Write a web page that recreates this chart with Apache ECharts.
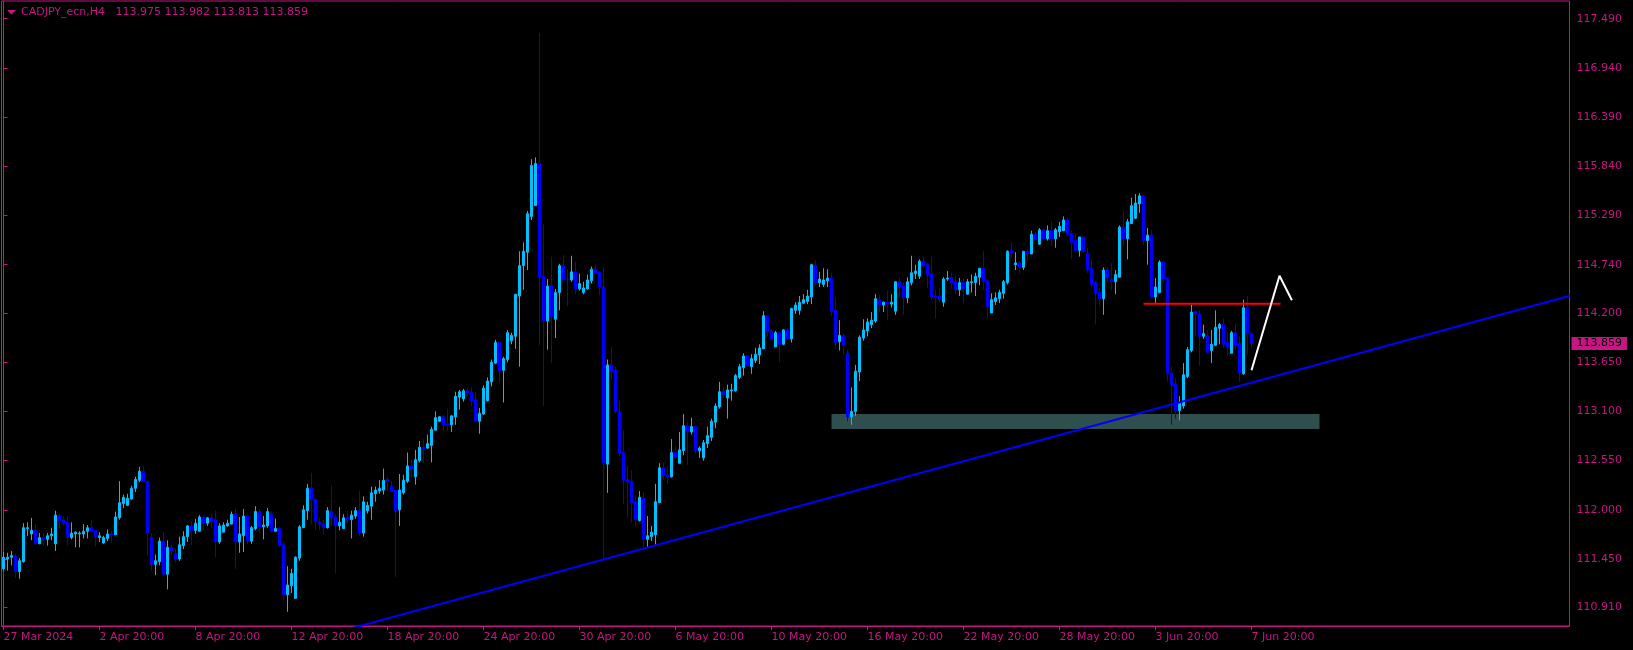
<!DOCTYPE html>
<html>
<head>
<meta charset="utf-8">
<title>CADJPY_ecn,H4</title>
<script src="https://cdn.jsdelivr.net/npm/echarts@6/dist/echarts.min.js"></script>
<style>
  html, body { margin: 0; padding: 0; background: #000; }
  #chart { width: 1633px; height: 650px; }
</style>
</head>
<body>
<div id="chart"></div>
<script>
// ---------------- DATA ----------------
const symbolTitle = 'CADJPY_ecn,H4';
const firstBarUTC = Date.UTC(2024, 2, 27, 20, 0); // first visible H4 bar
const firstLabel = '27 Mar 2024';
const labelEvery = 24;          // bars between time labels
const slotCount = 392;          // bar slots across the plot (incl. empty right margin)

const open = [
111.34,111.45,111.47,111.48,111.31,111.42,111.79,111.73,111.77,111.62,
111.69,111.67,111.71,111.62,111.94,111.89,111.86,111.69,111.73,111.73,
111.73,111.76,111.80,111.77,111.69,111.63,111.68,111.73,111.72,111.91,
112.07,112.05,112.12,112.24,112.33,112.43,112.32,111.69,111.39,111.42,
111.65,111.28,111.58,111.51,111.45,111.60,111.70,111.82,111.77,111.76,
111.92,111.85,111.91,111.89,111.64,111.75,111.82,111.84,111.95,111.64,
111.71,111.93,111.65,111.79,111.98,111.81,111.82,111.95,111.76,111.79,
111.61,111.05,111.15,111.01,111.46,111.80,111.99,112.24,112.12,111.86,
111.84,111.80,111.98,111.92,111.82,111.79,111.92,111.89,111.93,111.99,
111.74,111.99,112.04,112.18,112.21,112.22,112.34,112.26,112.22,112.00,
112.19,112.32,112.49,112.37,112.55,112.70,112.69,112.72,112.89,112.99,
113.04,112.96,112.95,113.04,113.26,113.24,113.33,113.31,113.23,112.99,
113.07,113.22,113.43,113.64,113.87,113.56,113.68,113.89,113.94,114.39,
114.73,114.88,115.28,115.40,115.87,114.61,114.11,114.51,114.13,114.43,
114.73,114.58,114.57,114.66,114.47,114.43,114.47,114.56,114.69,114.66,
114.49,112.51,113.62,113.56,113.10,112.64,112.34,112.32,112.09,111.88,
112.13,111.67,111.70,111.72,112.08,112.47,112.39,112.37,112.64,112.52,
112.66,112.94,112.87,112.93,112.66,112.58,112.74,112.81,112.98,113.15,
113.32,113.25,113.33,113.33,113.48,113.59,113.72,113.60,113.67,113.73,
113.80,114.17,114.00,113.82,113.98,113.85,114.01,113.91,114.23,114.23,
114.31,114.33,114.38,114.73,114.54,114.52,114.56,114.59,114.23,113.88,
113.95,113.75,113.04,113.10,113.54,113.92,114.00,114.07,114.11,114.35,
114.29,114.32,114.30,114.22,114.55,114.51,114.37,114.54,114.64,114.61,
114.78,114.74,114.64,114.39,114.39,114.32,114.58,114.60,114.55,114.46,
114.54,114.41,114.54,114.54,114.60,114.70,114.56,114.20,114.33,114.36,
114.42,114.54,114.90,114.74,114.76,114.71,114.89,114.86,115.08,114.97,
115.13,115.03,115.12,115.03,115.11,115.12,115.24,115.09,115.01,114.90,
115.05,114.87,114.70,114.54,114.43,114.36,114.68,114.58,114.55,114.60,
115.16,115.03,115.20,115.26,115.42,115.51,115.01,115.07,114.38,114.43,
114.77,114.59,113.53,113.41,113.11,113.16,113.49,113.78,114.22,114.19,
113.94,113.94,113.78,113.84,114.03,114.07,113.87,113.75,113.98,113.86,
113.52,114.26,113.975
];
const high = [
111.53,111.52,111.54,111.51,111.46,111.85,111.86,111.91,111.84,111.74,
111.74,111.74,111.80,111.99,111.96,111.93,111.92,111.86,111.76,111.76,
111.84,111.83,111.89,111.77,111.75,111.71,111.78,111.76,111.98,112.32,
112.17,112.18,112.27,112.37,112.48,112.49,112.32,111.74,111.50,111.69,
111.75,111.66,111.61,111.57,111.70,111.76,111.83,111.87,111.90,111.94,
111.94,111.92,111.96,111.99,111.85,111.86,111.89,111.98,112.01,111.92,
112.01,111.93,111.82,112.04,112.01,111.93,112.02,111.98,111.90,111.81,
111.64,111.37,111.34,111.48,111.83,112.05,112.29,112.41,112.12,111.91,
111.89,112.03,112.27,111.95,112.03,111.95,111.99,111.99,112.03,112.21,
112.15,112.09,112.26,112.26,112.33,112.46,112.37,112.32,112.22,112.40,
112.39,112.64,112.56,112.67,112.77,112.79,112.84,112.93,113.10,113.05,
113.06,113.13,113.06,113.32,113.34,113.35,113.37,113.37,113.32,113.14,
113.39,113.48,113.68,113.90,113.87,113.71,114.01,113.98,114.41,114.89,
114.99,115.34,115.92,115.94,117.33,115.19,114.58,114.83,114.47,114.75,
114.85,114.69,114.84,114.77,114.64,114.55,114.63,114.72,114.74,114.66,
114.71,113.68,113.82,113.60,113.22,112.89,112.49,112.44,112.16,112.21,
112.20,111.93,111.82,112.29,112.52,112.53,112.49,112.79,112.71,112.87,
113.07,112.98,113.03,112.94,112.71,112.78,112.93,113.02,113.19,113.43,
113.37,113.40,113.41,113.52,113.63,113.75,113.73,113.74,113.81,113.85,
114.22,114.17,114.02,114.00,113.98,114.02,114.03,114.26,114.32,114.39,
114.41,114.46,114.75,114.79,114.66,114.70,114.69,114.65,114.37,114.12,
113.97,113.79,113.37,113.62,113.95,114.13,114.14,114.21,114.41,114.40,
114.33,114.45,114.41,114.55,114.60,114.54,114.60,114.84,114.74,114.80,
114.83,114.76,114.83,114.46,114.48,114.60,114.67,114.65,114.61,114.59,
114.59,114.58,114.63,114.65,114.70,114.89,114.57,114.42,114.43,114.46,
114.57,114.90,114.99,114.88,114.78,114.89,114.92,115.12,115.11,115.15,
115.14,115.18,115.22,115.15,115.22,115.28,115.26,115.12,115.09,115.05,
115.05,114.93,114.80,114.56,114.48,114.71,114.71,114.76,114.68,115.18,
115.35,115.25,115.49,115.53,115.54,115.52,115.15,115.13,114.59,114.79,
114.78,114.60,113.60,113.47,113.27,113.64,113.82,114.29,114.22,114.23,
114.07,114.01,114.01,114.23,114.09,114.14,113.98,114.00,114.08,113.94,
114.35,114.39,113.982
];
const low = [
111.32,111.32,111.38,111.24,111.23,111.41,111.71,111.66,111.61,111.62,
111.60,111.60,111.66,111.54,111.78,111.82,111.60,111.67,111.58,111.58,
111.68,111.68,111.76,111.59,111.64,111.62,111.65,111.63,111.72,111.89,
112.02,112.04,112.12,112.20,112.31,112.31,111.48,111.32,111.27,111.38,
111.26,111.11,111.49,111.41,111.43,111.56,111.64,111.61,111.73,111.76,
111.77,111.82,111.80,111.47,111.62,111.75,111.81,111.84,111.34,111.52,
111.53,111.62,111.62,111.77,111.74,111.67,111.80,111.76,111.76,111.58,
110.98,110.86,111.07,111.01,111.43,111.80,111.89,111.84,111.77,111.77,
111.72,111.79,111.82,111.29,111.77,111.79,111.85,111.68,111.90,111.71,
111.70,111.96,111.89,112.09,112.18,112.17,112.21,112.19,111.25,111.82,
112.17,112.30,112.36,112.28,112.53,112.52,112.68,112.53,112.89,112.98,
112.88,112.88,112.87,112.95,113.12,113.21,113.27,113.16,112.98,112.85,
113.06,113.21,113.38,113.63,113.42,113.20,113.65,113.85,113.80,113.60,
114.46,114.68,115.24,115.40,113.84,113.16,113.79,113.64,113.92,114.23,
114.54,114.28,114.55,114.41,114.45,114.41,114.46,114.53,114.63,114.40,
111.43,112.19,113.46,113.08,112.60,112.06,111.91,111.86,111.82,111.87,
111.56,111.58,111.65,111.61,112.08,112.34,112.29,112.36,112.57,112.52,
112.61,112.50,112.84,112.62,112.58,112.55,112.69,112.77,112.91,113.13,
113.25,113.02,113.22,113.32,113.46,113.50,113.60,113.52,113.64,113.63,
113.80,113.94,113.89,113.82,113.65,113.84,113.90,113.87,114.19,114.18,
114.30,114.30,114.30,114.50,114.49,114.49,114.49,114.17,113.81,113.78,
113.74,112.99,112.95,113.05,113.44,113.89,113.94,114.03,114.09,114.21,
114.21,114.12,114.26,114.18,114.38,114.18,114.31,114.51,114.58,114.58,
114.70,114.48,114.35,114.14,114.32,114.27,114.56,114.47,114.41,114.39,
114.31,114.41,114.43,114.39,114.51,114.46,114.14,114.20,114.29,114.31,
114.36,114.52,114.82,114.68,114.64,114.68,114.78,114.86,115.02,114.96,
115.01,115.01,114.95,114.93,115.05,115.12,115.07,114.80,114.89,114.83,
114.88,114.65,114.49,114.07,114.28,114.18,114.54,114.46,114.41,114.60,
114.95,114.80,115.20,115.25,115.32,114.96,114.74,114.37,114.31,114.42,
114.54,113.44,112.95,113.02,113.00,113.13,113.47,113.76,113.94,113.61,
113.91,113.75,113.64,113.83,113.85,113.81,113.72,113.75,113.79,113.43,
113.51,113.73,113.813
];
const close = [
111.47,111.47,111.49,111.31,111.43,111.80,111.80,111.77,111.62,111.69,
111.67,111.71,111.73,111.94,111.88,111.85,111.69,111.74,111.75,111.74,
111.76,111.80,111.76,111.70,111.71,111.69,111.73,111.72,111.92,112.08,
112.14,112.13,112.24,112.34,112.43,112.32,111.74,111.39,111.43,111.65,
111.28,111.58,111.54,111.45,111.61,111.70,111.82,111.77,111.85,111.92,
111.85,111.91,111.87,111.64,111.82,111.83,111.85,111.95,111.64,111.73,
111.93,111.65,111.80,111.98,111.81,111.83,111.98,111.76,111.79,111.60,
111.05,111.16,111.29,111.47,111.81,112.00,112.24,112.11,111.87,111.84,
111.80,111.99,111.91,111.82,111.86,111.91,111.89,111.94,111.99,111.74,
112.09,112.05,112.19,112.22,112.24,112.33,112.32,112.21,111.99,112.22,
112.33,112.49,112.46,112.56,112.70,112.68,112.74,112.90,113.03,113.04,
112.95,112.95,113.05,113.27,113.32,113.33,113.31,113.22,112.99,113.08,
113.36,113.44,113.65,113.87,113.55,113.69,113.98,113.95,114.41,114.73,
114.89,115.31,115.85,115.87,114.60,114.11,114.50,114.16,114.43,114.73,
114.57,114.57,114.66,114.47,114.53,114.48,114.57,114.69,114.65,114.49,
112.53,113.62,113.55,113.10,112.63,112.33,112.31,112.08,111.89,112.14,
111.67,111.71,111.75,112.09,112.47,112.38,112.37,112.64,112.59,112.67,
112.94,112.87,112.93,112.66,112.69,112.75,112.83,112.99,113.16,113.32,
113.29,113.34,113.34,113.50,113.60,113.72,113.61,113.69,113.74,113.81,
114.17,113.99,113.91,113.98,113.85,114.01,113.91,114.25,114.29,114.32,
114.35,114.39,114.74,114.54,114.58,114.57,114.59,114.22,113.87,113.95,
113.84,113.04,113.10,113.55,113.93,114.01,114.10,114.12,114.36,114.29,
114.32,114.30,114.32,114.55,114.49,114.37,114.55,114.65,114.67,114.78,
114.73,114.63,114.38,114.38,114.35,114.58,114.59,114.54,114.46,114.54,
114.47,114.55,114.55,114.61,114.70,114.55,114.27,114.35,114.37,114.43,
114.55,114.89,114.87,114.76,114.71,114.89,114.86,115.08,115.02,115.13,
115.03,115.12,115.03,115.13,115.17,115.24,115.08,114.99,114.90,115.05,
114.89,114.68,114.52,114.42,114.36,114.68,114.59,114.55,114.63,115.16,
115.03,115.22,115.40,115.43,115.51,115.01,115.07,114.38,114.49,114.77,
114.58,113.52,113.40,113.11,113.19,113.51,113.79,114.21,114.19,113.94,
113.97,113.76,113.85,114.04,114.07,113.85,113.82,113.98,113.84,113.53,
114.26,113.97,113.859
];

// price axis
const priceMin = 110.701;
const priceMax = 117.688;
const priceTicks = [110.910,111.450,112.000,112.550,113.100,113.650,114.200,114.740,115.290,115.840,116.390,116.940,117.490];

// drawn objects (bar index, price)
const trendLine  = [[85, 110.651], [391.6, 114.393]];
const resistance = [[285, 114.304], [319.25, 114.304]];
const projection = [[312, 113.560], [319, 114.617], [322.1, 114.342]];
const supportZone = { fromBar: 207, toBar: 329, top: 113.071, bottom: 112.904 };

// ---------------- BUILD ----------------
const MONTHS = ['Jan','Feb','Mar','Apr','May','Jun','Jul','Aug','Sep','Oct','Nov','Dec'];
const categories = [];
{
  let t = firstBarUTC;
  while (categories.length < slotCount) {
    const d = new Date(t);
    const wd = d.getUTCDay();
    if (wd !== 0 && wd !== 6) {
      categories.push(d.getUTCDate() + ' ' + MONTHS[d.getUTCMonth()] + ' ' +
        String(d.getUTCHours()).padStart(2, '0') + ':00');
    }
    t += 4 * 3600 * 1000;
  }
}
const barCount = open.length;
const candles = open.map((o, i) => [o, close[i], low[i], high[i]]);
const lastOpen = open[barCount - 1], lastHigh = high[barCount - 1];
const lastLow = low[barCount - 1], lastClose = close[barCount - 1];

const PINK = '#c71585';
const FONT = 'DejaVu Sans';
const showLabel = (idx) => idx % labelEvery === 0 && idx < barCount;

const chart = echarts.init(document.getElementById('chart'), null, { renderer: 'canvas' });
chart.setOption({
  backgroundColor: '#000000',
  animation: false,
  grid: {
    left: 1.5, top: 1, width: 1568, height: 625,
    show: true, borderColor: PINK, borderWidth: 1,
    backgroundColor: 'transparent',
    containLabel: false, outerBoundsMode: 'none'
  },
  graphic: [
    { type: 'polygon', shape: { points: [[7, 10], [16, 10], [11.5, 14.5]] },
      style: { fill: PINK }, silent: true },
    { type: 'text', x: 21, y: 12, silent: true,
      style: {
        text: symbolTitle + '   ' + [lastOpen, lastHigh, lastLow, lastClose].map(v => v.toFixed(3)).join(' '),
        fill: PINK, font: '11px "' + FONT + '"', verticalAlign: 'middle', align: 'left'
      } }
  ],
  xAxis: [
    {
      type: 'category', data: categories, boundaryGap: true,
      axisLine: { show: true, lineStyle: { color: PINK, width: 1 } },
      axisTick: { show: true, alignWithLabel: true, length: 4, interval: (i) => showLabel(i),
                  lineStyle: { color: PINK } },
      axisLabel: {
        show: true, interval: (i) => showLabel(i),
        formatter: (v, i) => (i === 0 ? firstLabel : v),
        color: PINK, fontFamily: FONT, fontSize: 11, align: 'left', margin: 6,
        hideOverlap: false
      },
      splitLine: { show: false }
    },
    { type: 'value', min: -0.5, max: slotCount - 0.5, show: false, gridIndex: 0 }
  ],
  yAxis: {
    type: 'value', position: 'right', min: priceMin, max: priceMax, scale: true,
    axisLine: { show: true, lineStyle: { color: PINK, width: 1 } },
    axisTick: { show: true, length: 4, customValues: priceTicks, lineStyle: { color: PINK } },
    axisLabel: {
      show: true, customValues: priceTicks, formatter: (v) => Number(v).toFixed(3),
      color: PINK, fontFamily: FONT, fontSize: 11, margin: 7, showMinLabel: true, showMaxLabel: true
    },
    splitLine: { show: false }
  },
  series: [
    {
      type: 'line', xAxisIndex: 1, yAxisIndex: 0, data: [], silent: true, z: 1,
      markArea: {
        silent: true,
        itemStyle: { color: '#2f4f4f', opacity: 1, borderWidth: 0 },
        data: [[{ coord: [supportZone.fromBar, supportZone.top] },
                { coord: [supportZone.toBar, supportZone.bottom] }]]
      }
    },
    {
      type: 'candlestick', xAxisIndex: 0, yAxisIndex: 0, data: candles, z: 2,
      barWidth: 2, silent: true,
      itemStyle: {
        color: '#00bfff', color0: '#0000ff',
        borderColor: '#00bfff', borderColor0: '#0000ff', borderWidth: 1
      }
    },
    {
      type: 'line', xAxisIndex: 1, yAxisIndex: 0, data: trendLine, z: 3,
      symbol: 'none', silent: true, clip: true,
      lineStyle: { color: '#0000ff', width: 2 }
    },
    {
      type: 'line', xAxisIndex: 1, yAxisIndex: 0, data: resistance, z: 3,
      symbol: 'none', silent: true, clip: true,
      lineStyle: { color: '#ff0000', width: 2 }
    },
    {
      type: 'line', xAxisIndex: 1, yAxisIndex: 0, data: projection, z: 3,
      symbol: 'none', silent: true, clip: true,
      lineStyle: { color: '#ffffff', width: 2 }
    },
    {
      type: 'line', xAxisIndex: 1, yAxisIndex: 0, data: [], silent: true, z: 5,
      markLine: {
        silent: true, symbol: ['none', 'none'], animation: false,
        lineStyle: { color: 'rgba(0,0,0,0)', width: 1, type: 'solid' },
        label: {
          show: true, position: 'end', distance: 2,
          formatter: () => lastClose.toFixed(3),
          backgroundColor: PINK, color: '#000000', fontFamily: FONT, fontSize: 11,
          padding: [1, 5, 0, 5], lineHeight: 12
        },
        emphasis: { disabled: true },
        data: [{ yAxis: lastClose }]
      }
    }
  ]
});
</script>
</body>
</html>
